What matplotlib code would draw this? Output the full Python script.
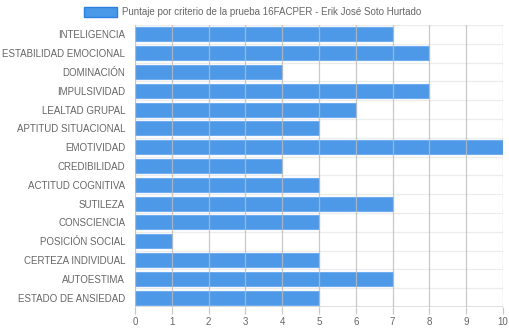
import matplotlib.pyplot as plt
from matplotlib.patches import Rectangle

categorias = ["INTELIGENCIA", "ESTABILIDAD EMOCIONAL", "DOMINACIÓN", "IMPULSIVIDAD",
              "LEALTAD GRUPAL", "APTITUD SITUACIONAL", "EMOTIVIDAD", "CREDIBILIDAD",
              "ACTITUD COGNITIVA", "SUTILEZA", "CONSCIENCIA", "POSICIÓN SOCIAL",
              "CERTEZA INDIVIDUAL", "AUTOESTIMA", "ESTADO DE ANSIEDAD"]
puntajes = [7, 8, 4, 8, 6, 5, 10, 4, 5, 7, 5, 1, 5, 7, 5]
ticks_x = list(range(0, 11))
titulo = "Puntaje por criterio de la prueba 16FACPER - Erik José Soto Hurtado"

plt.rcParams['font.family'] = ['Liberation Sans', 'DejaVu Sans']

fig = plt.figure(figsize=(5.1, 3.28), dpi=100)
ax = fig.add_axes([135 / 510, 21 / 328, 368 / 510, 282 / 328])

n = len(categorias)
pos = list(range(n))
ax.barh(pos, puntajes, height=0.75, color='#3a8ee6', alpha=0.9,
        edgecolor='#6aaaf0', linewidth=0.8, zorder=2)

ax.set_xlim(0, 10)
ax.set_ylim(n - 0.5, -0.5)
ax.set_xticks(ticks_x)
ax.set_yticks(pos)
ax.set_yticklabels(categorias)

# vertical grid lines
for t in ticks_x:
    ax.axvline(t, color='#bcbcbc', lw=0.9, zorder=3, alpha=0.8)
# horizontal separators between categories
for k in range(n + 1):
    ax.axhline(k - 0.5, color='#ececec', lw=0.9, zorder=1)

for s in ax.spines.values():
    s.set_visible(False)
ax.axhline(n - 0.5, color='#d8d8d8', lw=1.2, zorder=1)

ax.tick_params(axis='y', length=0, pad=7, labelsize=7, labelcolor='#666666')
ax.tick_params(axis='x', length=5, width=0.9, color='#c8c8c8', pad=2,
               labelsize=7, labelcolor='#666666')

# legend
fig.patches.append(Rectangle((84 / 510, 1 - 17 / 328), 33 / 510, 10 / 328,
                             transform=fig.transFigure, facecolor='#4a98e8',
                             edgecolor='#2a7fe0', lw=1.0))
fig.text(122 / 510, 1 - 12 / 328, titulo, fontsize=7, color='#666666',
         va='center', ha='left')

fig.savefig('out.png', dpi=100)
